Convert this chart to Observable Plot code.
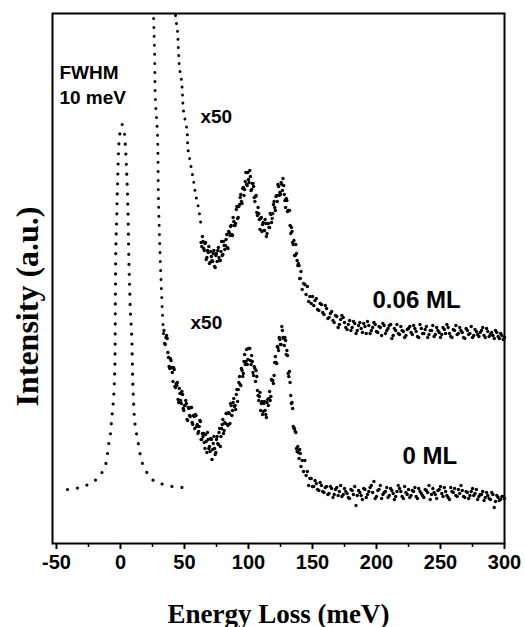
<!DOCTYPE html>
<html>
<head>
<meta charset="utf-8">
<script src="https://cdn.jsdelivr.net/npm/d3@7"></script>
<script src="https://cdn.jsdelivr.net/npm/@observablehq/plot@0.6"></script>
<style>
  html, body { margin: 0; padding: 0; background: #fff; }
</style>
</head>
<body>
<div id="chart"></div>
<script>
// ---- data (energy loss in meV, intensity in arbitrary units) ----
const xTicks = [-50, 0, 50, 100, 150, 200, 250, 300];
const xMinorTicks = [-25, 25, 75, 125, 175, 225, 275];

// elastic peak (FWHM 10 meV), dotted curve
const elasticE = [-41.4,-36,-31.3,-27,-23.4,-20,-17.2,-14,-12.3,-10.9,-9.4,-7.8,-7.0,-6.2,-5.5,-4.7,-4.3,-4.0,-3.6,-3.0,-2.5,-2.0,-1.4,-0.3,1.3,3.1,3.9,4.7,5.3,5.8,6.2,6.7,7.3,7.8,8.6,9.1,9.5,10.2,10.9,11.7,13.3,15,17.2,21.1,25.8,31.3,40.6,49.2];
const elasticI = [54,55,56,58,60,63,66,72,77,82,98,110,123,133,143,163,183,240,296,323,350,372,396,411,419,410,396,376,356,336,310,276,250,230,213,193,166,143,126,116,105,92,80,70,63,60,57,56];

// off-scale x50 tails
const tailLowE = [25.3,25.8,26.6,27.3,28.9,29.7,31.3,32.8,33.6];
const tailLowI = [570,530,493,443,410,343,276,230,210];
const tailHighE = [42.6,43.0,44.5,45.3,46.1,47.7,48.4,49.2,52.0,52.6,54.7,57.0,58.6,60.9,63.0];
const tailHighI = [560,528,513,493,476,463,450,433,413,396,380,363,350,336,318];

// 0 ML spectrum (x50)
const lowE = [34,35,36,37,38,39,40,41,42,43,44,45,46,47,48,49,50,51,52,53,54,55,56,57,58,59,60,61,62,63,64,65,66,67,68,69,70,71,72,73,74,75,76,77,78,79,80,81,82,83,84,85,86,87,88,89,90,91,92,93,94,95,96,97,98,99,100,101,102,103,104,105,106,107,108,109,110,111,112,113,114,115,116,117,118,119,120,121,122,123,124,125,126,127,128,129,130,131,132,133,134,135,136,137,138,139,140,141,142,143,144,145,146,147,148,149,150,
  152,154,156,158,160,162,164,166,168,170,172,174,176,178,180,182,184,186,188,190,192,194,196,198,200,202,204,206,208,210,212,214,216,218,220,222,224,226,228,230,232,234,236,238,240,242,244,246,248,250,252,254,256,258,260,262,264,266,268,270,272,274,276,278,280,282,284,286,288,290,292,294,296,298,300];
const lowI = [213,199,208,191,177,185,176,162,174,156,
  158,144,155,143,152,135,138,143,124,136,
  128,136,121,128,115,128,119,112,123,104,
  110,110,95,102,111,95,92,104,94,107,
  89,104,100,111,97,115,124,113,120,130,
  118,130,140,128,141,137,134,154,154,167,
  158,173,170,189,182,179,195,195,179,182,
  168,175,173,153,143,151,140,129,140,133,
  126,144,145,143,164,163,168,187,180,196,
  206,199,217,206,198,203,193,170,172,148,
  141,117,115,111,92,91,94,77,83,72,
  83,68,72,58,65,65,57,
  63,54,61,52,56,49,57,46,54,48,
  58,49,52,46,54,49,38,53,48,55,
  46,52,58,62,47,54,45,51,56,48,
  53,44,52,55,47,57,49,46,53,56,
  45,52,48,54,51,44,55,49,53,57,
  47,52,46,56,51,48,54,58,47,52,
  45,52,48,54,47,49,43,51,45,51,
  36,48,43,47,45];
// 0 ML, intermediate channels
const lowE2 = [34.5,35.5,36.5,37.5,38.5,39.5,40.5,41.5,42.5,43.5,44.5,45.5,46.5,47.5,48.5,49.5,50.5,51.5,52.5,53.5,54.5,55.5,56.5,57.5,58.5,59.5,60.5,61.5,62.5,63.5,64.5,65.5,66.5,67.5,68.5,69.5,70.5,71.5,72.5,73.5,74.5,75.5,76.5,77.5,78.5,79.5,80.5,81.5,82.5,83.5,84.5,85.5,86.5,87.5,88.5,89.5,90.5,91.5,92.5,93.5,94.5,95.5,96.5,97.5,98.5,99.5,100.5,101.5,102.5,103.5,104.5,105.5,106.5,107.5,108.5,109.5,110.5,111.5,112.5,113.5,114.5,115.5,116.5,117.5,118.5,119.5,120.5,121.5,122.5,123.5,124.5,125.5,126.5,127.5,128.5,129.5,130.5,131.5,132.5,133.5,134.5,135.5,136.5,137.5,138.5,139.5,140.5,
  151,153,155,157,159,161,163,165,167,169,171,173,175,177,179,181,183,185,187,189,191,193,195,197,199,201,203,205,207,209,211,213,215,217,219,221,223,225,227,229,231,233,235,237,239,241,243,245,247,249,251,253,255,257,259,261,263,265,267,269,271,273,275,277,279,281,283,285,287,289,291,293,295,297,299];
const lowI2 = [200,206,205,186,175,183,171,176,157,160,
  161,141,150,140,149,133,138,140,123,135,
  127,136,119,127,129,117,110,117,122,104,
  107,101,109,91,104,97,105,84,100,95,
  91,107,99,115,107,119,110,121,130,119,
  131,120,138,133,145,138,149,142,161,159,
  175,167,182,179,194,184,195,183,188,171,
  177,162,167,148,147,133,142,132,142,129,
  141,138,152,147,163,160,181,181,197,193,
  204,199,213,205,206,189,188,167,161,140,
  135,115,112,95,97,85,90,
  57,60,53,58,51,57,50,55,49,56,
  52,47,55,50,45,53,57,48,51,44,
  54,49,56,51,45,53,58,49,52,46,
  55,50,47,58,52,45,51,54,48,52,
  47,55,50,46,53,58,49,51,45,54,
  50,56,48,44,52,55,47,50,53,46,
  51,48,55,50,44,49,52,46,48,44,
  49,42,46,44,47];

// 0.06 ML spectrum (x50)
const highE = [63,64,65,66,67,68,69,70,71,72,73,74,75,76,77,78,79,80,81,82,83,84,85,86,87,88,89,90,91,92,93,94,95,96,97,98,99,100,101,102,103,104,105,106,107,108,109,110,111,112,113,114,115,116,117,118,119,120,121,122,123,124,125,126,127,128,129,130,131,132,133,134,135,136,137,138,139,140,141,142,143,144,145,146,147,148,149,150,
  152,154,156,158,160,162,164,166,168,170,172,174,176,178,180,182,184,186,188,190,192,194,196,198,200,202,204,206,208,210,212,214,216,218,220,222,224,226,228,230,232,234,236,238,240,242,244,246,248,250,252,254,256,258,260,262,264,266,268,270,272,274,276,278,280,282,284,286,288,290,292,294,296,298,300];
const highI = [301,307,295,300,284,293,297,281,287,282,
  293,276,290,293,286,283,302,289,298,298,
  309,295,311,317,309,326,318,320,337,326,
  339,349,340,356,354,371,358,364,373,353,
  360,357,342,348,328,330,314,326,319,313,
  324,307,320,316,330,321,330,342,333,348,
  359,348,349,359,365,349,336,343,333,333,
  310,312,299,288,299,283,280,265,272,254,
  260,259,249,257,242,247,240,247,
  243,234,240,231,238,225,230,223,228,216,
  224,226,216,219,213,222,210,218,215,220,
  210,218,213,221,212,217,208,218,213,218,
  205,215,219,209,213,206,214,217,209,215,
  207,219,210,214,206,213,218,209,213,206,
  216,210,216,207,214,218,210,213,206,215,
  209,217,208,212,207,213,208,215,207,211,
  205,211,205,208,206];
// 0.06 ML, intermediate channels
const highE2 = [63.5,64.5,65.5,66.5,67.5,68.5,69.5,70.5,71.5,72.5,73.5,74.5,75.5,76.5,77.5,78.5,79.5,80.5,81.5,82.5,83.5,84.5,85.5,86.5,87.5,88.5,89.5,90.5,91.5,92.5,93.5,94.5,95.5,96.5,97.5,98.5,99.5,100.5,101.5,102.5,103.5,104.5,105.5,106.5,107.5,108.5,109.5,110.5,111.5,112.5,113.5,114.5,115.5,116.5,117.5,118.5,119.5,120.5,121.5,122.5,123.5,124.5,125.5,126.5,127.5,128.5,129.5,130.5,131.5,132.5,133.5,134.5,135.5,136.5,137.5,138.5,139.5,140.5,
  151,153,155,157,159,161,163,165,167,169,171,173,175,177,179,181,183,185,187,189,191,193,195,197,199,201,203,205,207,209,211,213,215,217,219,221,223,225,227,229,231,233,235,237,239,241,243,245,247,249,251,253,255,257,259,261,263,265,267,269,271,273,275,277,279,281,283,285,287,289,291,293,295,297,299];
const highI2 = [297,302,293,301,286,291,280,292,283,290,
  277,288,282,296,283,292,288,302,294,304,
  296,312,308,318,308,322,318,334,325,337,
  346,342,355,348,362,359,371,361,367,354,
  360,346,347,331,336,324,325,312,321,313,
  320,310,320,316,329,325,339,336,347,342,
  357,351,361,353,358,343,345,332,333,318,
  316,301,303,288,290,278,278,265,
  238,245,233,239,229,235,226,232,221,227,
  219,228,221,214,223,216,220,213,221,211,
  217,222,210,216,219,211,216,220,210,215,
  219,208,213,210,217,212,208,215,211,218,
  212,206,215,210,217,209,213,207,216,211,
  209,214,219,210,206,213,209,216,211,205,
  213,210,206,214,209,211,216,206,212,209,
  208,213,207,210,204];

const xLabel = "Energy Loss (meV)";
const yLabel = "Intensity (a.u.)";

// ---- build tables ----
const zip = (E, I) => E.map((e, k) => ({e, i: I[k]}));
const elastic = zip(elasticE, elasticI);
const tailLow = zip(tailLowE, tailLowI);
const tailHigh = zip(tailHighE, tailHighI);
const low = zip(lowE, lowI).concat(zip(lowE2, lowI2));
const high = zip(highE, highI).concat(zip(highE2, highI2));

const smallNotes = [
  {e: -47.7, i: 465, t: "FWHM"},
  {e: -47.7, i: 440, t: "10 meV"},
  {e: 62.5, i: 421, t: "x50"},
  {e: 54.7, i: 215, t: "x50"}
];
const bigNotes = [
  {e: 196.9, i: 236, t: "0.06 ML"},
  {e: 220.3, i: 80, t: "0 ML"}
];

const dotted = {x: "e", y: "i", stroke: "black", strokeLinecap: "round"};

const chart = Plot.plot({
  width: 525,
  height: 627,
  marginLeft: 52,
  marginRight: 21,
  marginTop: 13,
  marginBottom: 84,
  style: {fontFamily: "'Liberation Sans', Arial, sans-serif", background: "white", color: "black", overflow: "visible"},
  x: {domain: [-53.1, 300], label: null},
  y: {domain: [0, 530], axis: null},
  marks: [
    Plot.line(elastic, {...dotted, curve: "catmull-rom", strokeWidth: 3.2, strokeDasharray: "0 10"}),
    Plot.line(tailLow, {...dotted, curve: "catmull-rom", strokeWidth: 3, strokeDasharray: "0 9", clip: true}),
    Plot.line(tailHigh, {...dotted, curve: "catmull-rom", strokeWidth: 3, strokeDasharray: "0 8", clip: true}),
    Plot.dot(low, {x: "e", y: "i", r: 1.7, fill: "black", stroke: null}),
    Plot.dot(high, {x: "e", y: "i", r: 1.7, fill: "black", stroke: null}),
    Plot.text(smallNotes, {x: "e", y: "i", text: "t", textAnchor: "start", lineAnchor: "bottom", fontSize: 19, fontWeight: "bold", fill: "black"}),
    Plot.text(bigNotes, {x: "e", y: "i", text: "t", textAnchor: "start", lineAnchor: "bottom", fontSize: 24, fontWeight: "bold", fill: "black"}),
    Plot.frame({stroke: "black", strokeWidth: 2}),
    Plot.axisX({ticks: xTicks, tickFormat: d => String(d), tickSize: 6, tickPadding: 5, strokeWidth: 2, fontSize: 20, fontWeight: "bold", label: null}),
    Plot.axisX({ticks: xMinorTicks, tickFormat: () => "", tickSize: 4, strokeWidth: 1.5, label: null}),
    Plot.text([xLabel], {text: d => d, frameAnchor: "bottom", dy: 79, lineAnchor: "bottom", textAnchor: "middle", fontSize: 27, fontWeight: "bold", fontFamily: "'Liberation Serif', 'Times New Roman', serif", fill: "black"}),
    Plot.text([yLabel], {text: d => d, frameAnchor: "left", rotate: -90, dx: -15, dy: 28, lineAnchor: "bottom", textAnchor: "middle", fontSize: 32, fontWeight: "bold", fontFamily: "'Liberation Serif', 'Times New Roman', serif", fill: "black"})
  ]
});

document.getElementById("chart").appendChild(chart);
</script>
</body>
</html>
